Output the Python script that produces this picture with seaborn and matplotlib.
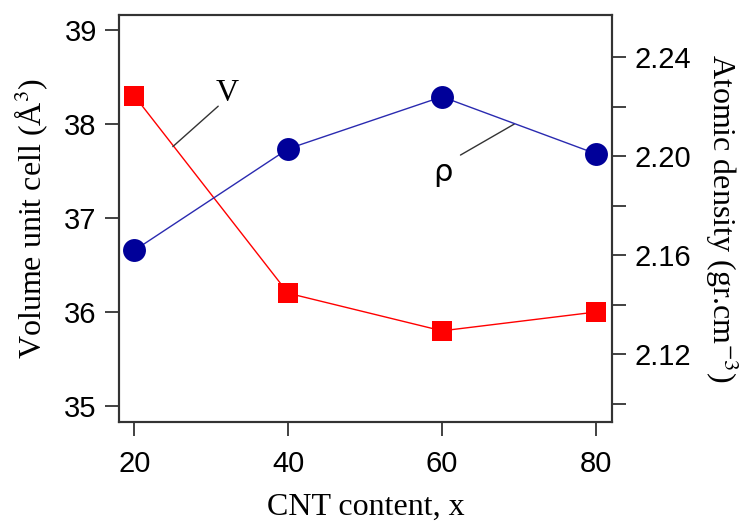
import matplotlib
matplotlib.use("Agg")
import matplotlib.pyplot as plt
import seaborn as sns
import pandas as pd

cnt = [20, 40, 60, 80]
volume = [38.30, 36.20, 35.80, 36.00]
density = [2.162, 2.203, 2.224, 2.201]
left_ticks = [35, 36, 37, 38, 39]
right_major = [2.12, 2.16, 2.20, 2.24]
right_minor = [2.10, 2.14, 2.18, 2.22]
x_ticks = [20, 40, 60, 80]

sns.set_style("white")
plt.rcParams['font.family'] = ['Liberation Sans', 'DejaVu Sans']
plt.rcParams['mathtext.fontset'] = 'stix'
plt.rcParams['text.color'] = 'black'
plt.rcParams['axes.labelcolor'] = 'black'
plt.rcParams['xtick.color'] = 'black'
plt.rcParams['ytick.color'] = 'black'

df = pd.DataFrame({"x": cnt, "V": volume, "rho": density})

fig = plt.figure(figsize=(7.56, 5.23), dpi=100)
ax = fig.add_axes([0.1574, 0.1931, 0.6521, 0.7782])
ax2 = ax.twinx()

sns.lineplot(data=df, x="x", y="V", ax=ax, color="#FF0000", lw=1.0,
             marker="s", markersize=15, markeredgewidth=0, markerfacecolor="#FF0000")
sns.lineplot(data=df, x="x", y="rho", ax=ax2, color="#2A2AB0", lw=1.0,
             marker="o", markersize=16.5, markeredgewidth=0, markerfacecolor="#000099")

ax.set_xlim(18.0, 82.1)
ax.set_ylim(34.83, 39.16)
ax2.set_ylim(2.0927, 2.257)

ax.set_xticks(x_ticks)
ax.set_yticks(left_ticks)
ax2.set_yticks(right_major)
ax2.set_yticks(right_minor, minor=True)
ax2.set_yticklabels([f"{v:.2f}" for v in right_major])

for a in (ax, ax2):
    for s in a.spines.values():
        s.set_color("#333333")
        s.set_linewidth(1.5)
ax.tick_params(axis="y", direction="out", length=10, width=1.3, color="#333333",
               labelcolor="black", labelsize=21, pad=6, left=True)
ax.tick_params(axis="x", direction="out", length=10, width=1.3, color="#333333",
               labelcolor="black", labelsize=21, pad=10, bottom=True)
ax2.tick_params(axis="y", which="both", direction="out", length=10, width=1.3,
                color="#333333", labelcolor="black", labelsize=21, pad=6, right=True)

serif = ['Liberation Serif', 'DejaVu Serif']
ax.set_xlabel("CNT content, x", family=serif, fontsize=23, labelpad=11, color="black")
ax.set_ylabel(r"Volume unit cell (Å$^3$)", family=serif, fontsize=23, labelpad=10,
              color="black")
ax2.set_ylabel(r"Atomic density (gr.cm$^{-3}$)", family=serif, fontsize=23,
               rotation=270, labelpad=36, color="black")

# annotations
ax.plot([25.0, 30.9], [37.76, 38.19], color="#333333", lw=1.0)
ax.text(32.1, 38.32, "V", family=serif, fontsize=23, ha="center", va="center",
        color="black")
ax.plot([62.4, 69.4], [37.67, 38.0], color="#333333", lw=1.0)
ax.text(60.1, 37.48, "ρ", family=['DejaVu Sans'], fontsize=22, ha="center",
        va="center", color="black")

for a in (ax, ax2):
    a.grid(False)
ax.set_facecolor("white")

fig.savefig("out.png", dpi=100, facecolor="white")
